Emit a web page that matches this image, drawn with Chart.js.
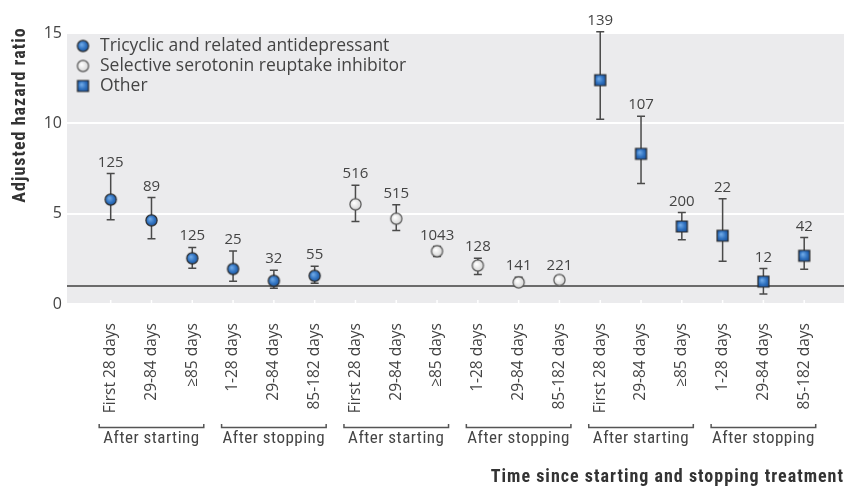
<!DOCTYPE html>
<html><head><meta charset="utf-8">
<script src="https://cdn.jsdelivr.net/npm/chart.js@4.4.1/dist/chart.umd.min.js"></script>
<style>html,body{margin:0;padding:0;background:#fff;}canvas{display:block;}</style>
</head><body>
<canvas id="c" width="845" height="489"></canvas>
<script>
// ---- data ----
const periods = ['First 28 days','29-84 days','≥85 days','1-28 days','29-84 days','85-182 days'];
const phases = ['After starting','After stopping'];
const seriesLabels = ['Tricyclic and related antidepressant','Selective serotonin reuptake inhibitor','Other'];
const yTicks = [0, 5, 10, 15];
const refValue = 1;

const tcaHR   = [5.78, 4.63, 2.53, 1.94, 1.28, 1.56];
const tcaLow  = [4.67, 3.61, 1.98, 1.26, 0.87, 1.15];
const tcaHigh = [7.22, 5.89, 3.13, 2.94, 1.87, 2.09];
const tcaN    = [125, 89, 125, 25, 32, 55];

const ssriHR   = [5.52, 4.72, 2.92, 2.13, 1.20, 1.33];
const ssriLow  = [4.56, 4.07, 2.63, 1.63, 0.98, 1.15];
const ssriHigh = [6.57, 5.50, 3.18, 2.53, 1.48, 1.52];
const ssriN    = [516, 515, 1043, 128, 141, 221];

const otherHR   = [12.39, 8.31, 4.29, 3.78, 1.24, 2.67];
const otherLow  = [10.22, 6.67, 3.56, 2.37, 0.56, 1.92];
const otherHigh = [15.07, 10.39, 5.06, 5.83, 1.96, 3.68];
const otherN    = [139, 107, 200, 22, 12, 42];

// ---- derived ----
const categories = [].concat(periods, periods, periods);
const FONT = "'Open Sans', 'DejaVu Sans', sans-serif";
const COND = "'Liberation Sans Narrow', 'Roboto Condensed', 'Roboto', sans-serif";

function makeMarker(kind) {
  const c = document.createElement('canvas'); c.width = 15; c.height = 15;
  const g = c.getContext('2d');
  const cx = 7.5, cy = 7.5;
  const grad = g.createRadialGradient(cx - 1.5, cy - 1.5, 0.5, cx, cy, 6.8);
  if (kind === 'white') { grad.addColorStop(0, '#ffffff'); grad.addColorStop(1, '#cdcdcd'); }
  else { grad.addColorStop(0, '#6ea8e6'); grad.addColorStop(0.55, '#2e70be'); grad.addColorStop(1, '#1a4d93'); }
  g.fillStyle = grad;
  g.strokeStyle = kind === 'white' ? '#555' : '#2a2a2a';
  g.lineWidth = 1.2;
  g.beginPath();
  if (kind === 'square') g.rect(2, 2, 11, 11); else g.arc(cx, cy, 5.6, 0, 2 * Math.PI);
  g.fill(); g.stroke();
  return c;
}
const markers = [makeMarker('blue'), makeMarker('white'), makeMarker('square')];

const series = [
  {hr: tcaHR, lo: tcaLow, hi: tcaHigh, n: tcaN},
  {hr: ssriHR, lo: ssriLow, hi: ssriHigh, n: ssriN},
  {hr: otherHR, lo: otherLow, hi: otherHigh, n: otherN}
];

const datasets = series.map((s, k) => ({
  label: seriesLabels[k],
  data: s.hr.map((v, i) => ({x: k * periods.length + i, y: v})),
  lo: s.lo, hi: s.hi, n: s.n,
  showLine: false,
  pointStyle: markers[k],
  pointRadius: 6,
  clip: false
}));

const decor = {
  id: 'decor',
  beforeDraw(chart) {
    const {ctx, chartArea: a} = chart;
    ctx.save();
    ctx.fillStyle = '#ebebed';
    ctx.fillRect(a.left, a.top, a.right - a.left - 1, a.bottom - a.top);
    ctx.restore();
  },
  beforeDatasetsDraw(chart) {
    const {ctx, chartArea: a, scales: {x, y}} = chart;
    ctx.save();
    ctx.strokeStyle = '#ffffff'; ctx.lineWidth = 1.5;
    categories.forEach((_, i) => {
      const px = x.getPixelForValue(i);
      ctx.beginPath(); ctx.moveTo(px, a.bottom - 4); ctx.lineTo(px, a.bottom); ctx.stroke();
    });
    const ry = y.getPixelForValue(refValue);
    ctx.strokeStyle = '#6b6b6b'; ctx.lineWidth = 2;
    ctx.beginPath(); ctx.moveTo(a.left, ry); ctx.lineTo(a.right - 1, ry); ctx.stroke();
    ctx.strokeStyle = '#4a4a4a'; ctx.lineWidth = 1.5;
    chart.data.datasets.forEach(ds => {
      ds.data.forEach((p, i) => {
        const px = x.getPixelForValue(p.x);
        const yl = y.getPixelForValue(ds.lo[i]), yh = y.getPixelForValue(ds.hi[i]);
        ctx.beginPath();
        ctx.moveTo(px, yl); ctx.lineTo(px, yh);
        ctx.moveTo(px - 4, yl); ctx.lineTo(px + 4, yl);
        ctx.moveTo(px - 4, yh); ctx.lineTo(px + 4, yh);
        ctx.stroke();
      });
    });
    ctx.restore();
  },
  afterDatasetsDraw(chart) {
    const {ctx, scales: {x, y}} = chart;
    ctx.save();
    ctx.font = '15px ' + FONT; ctx.fillStyle = '#444';
    ctx.textAlign = 'center'; ctx.textBaseline = 'alphabetic';
    chart.data.datasets.forEach(ds => {
      ds.data.forEach((p, i) => {
        ctx.fillText(String(ds.n[i]), x.getPixelForValue(p.x), y.getPixelForValue(ds.hi[i]) - 7);
      });
    });
    ctx.restore();
  },
  afterDraw(chart) {
    const {ctx, chartArea: a, scales: {x}} = chart;
    ctx.save();
    // legend
    chart.data.datasets.forEach((ds, k) => {
      const cy = a.top + 13 + k * 20;
      const img = markers[k];
      ctx.drawImage(img, a.left + 16 - img.width / 2, cy - img.height / 2);
      ctx.font = '17.5px ' + FONT; ctx.fillStyle = '#444';
      ctx.textAlign = 'left'; ctx.textBaseline = 'middle';
      ctx.fillText(ds.label, a.left + 33, cy);
    });
    // group brackets
    const n = periods.length / phases.length;
    ctx.strokeStyle = '#555'; ctx.lineWidth = 1.5;
    ctx.font = '17px ' + COND; ctx.fillStyle = '#444';
    ctx.letterSpacing = '0.5px';
    ctx.textAlign = 'center'; ctx.textBaseline = 'middle';
    for (let g = 0; g < categories.length / n; g++) {
      const x0 = x.getPixelForValue(g * n) - 11.5;
      const x1 = x.getPixelForValue(g * n + n - 1) + 11.5;
      const by = 427.5;
      ctx.beginPath();
      ctx.moveTo(x0, by - 3.5); ctx.lineTo(x0, by); ctx.lineTo(x1, by); ctx.lineTo(x1, by - 3.5);
      ctx.stroke();
      ctx.fillText(phases[g % phases.length], (x0 + x1) / 2, 439);
    }
    // axis titles
    ctx.font = 'bold 18px ' + COND; ctx.fillStyle = '#333';
    ctx.letterSpacing = '1px';
    ctx.textAlign = 'right'; ctx.textBaseline = 'middle';
    ctx.fillText('Time since starting and stopping treatment', 844, 477);
    ctx.translate(20, 115); ctx.rotate(-Math.PI / 2);
    ctx.textAlign = 'center';
    ctx.fillText('Adjusted hazard ratio', 0, 0);
    ctx.restore();
  }
};

new Chart(document.getElementById('c'), {
  type: 'scatter',
  data: {datasets},
  options: {
    responsive: false,
    animation: false,
    layout: {autoPadding: false, padding: {top: 33, right: 0, bottom: 0, left: 0}},
    plugins: {legend: {display: false}, tooltip: {enabled: false}},
    scales: {
      x: {
        type: 'linear', min: -1.071, max: 18.0,
        afterBuildTicks: s => { s.ticks = categories.map((_, i) => ({value: i})); },
        afterFit: s => { s.height = 185; },
        grid: {display: false}, border: {display: false},
        ticks: {autoSkip: false, minRotation: 90, maxRotation: 90, padding: 11,
          font: {family: FONT, size: 15.5}, color: '#444',
          callback: (v, i) => categories[i]}
      },
      y: {
        min: 0, max: 15,
        afterBuildTicks: s => { s.ticks = yTicks.map(v => ({value: v})); },
        afterFit: s => { s.width = 67; },
        grid: {color: '#ffffff', lineWidth: 2, drawTicks: false}, border: {display: false},
        ticks: {padding: 5, font: {family: FONT, size: 16}, color: '#444'}
      }
    }
  },
  plugins: [decor]
});
</script>
</body></html>
